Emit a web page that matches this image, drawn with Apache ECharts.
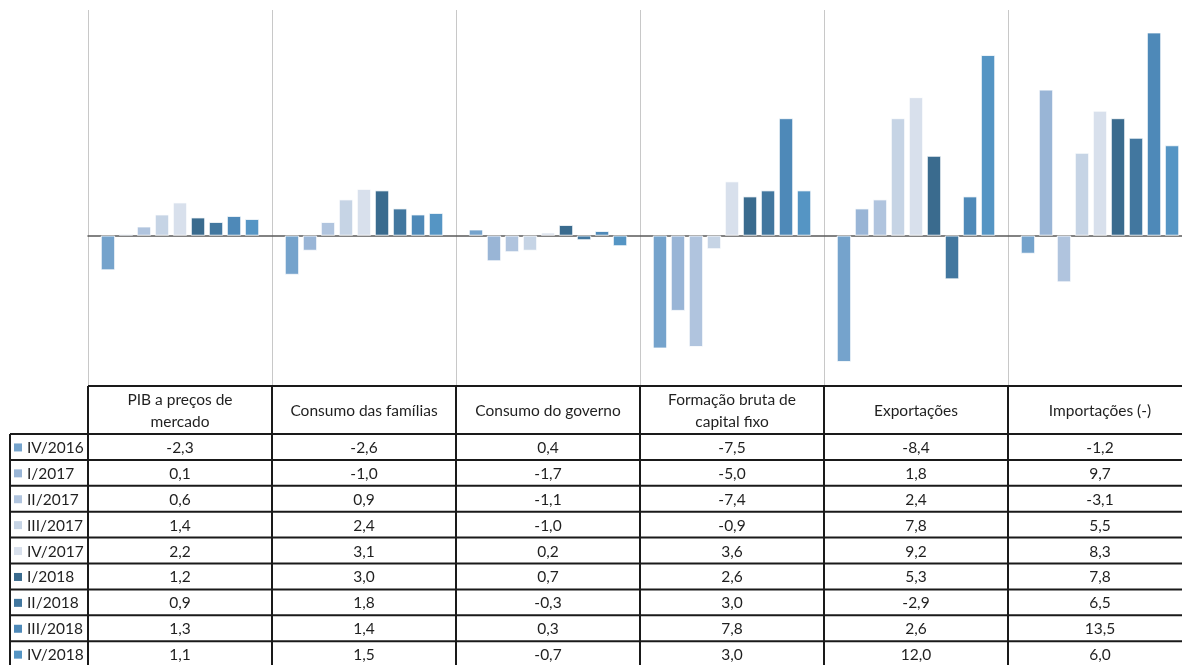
<!DOCTYPE html>
<html><head><meta charset="utf-8">
<script src="https://cdn.jsdelivr.net/npm/echarts@6/dist/echarts.min.js"></script>
<style>html,body{margin:0;padding:0;background:#fff}#c{width:1182px;height:665px}</style>
</head><body><div id="c"></div>
<script>
const categories = ['PIB a preços de\nmercado','Consumo das famílias','Consumo do governo','Formação bruta de\ncapital fixo','Exportações','Importações (-)'];
const seriesNames = ['IV/2016','I/2017','II/2017','III/2017','IV/2017','I/2018','II/2018','III/2018','IV/2018'];
const colors = ['#75a3cc','#99b5d6','#b0c4de','#c6d4e5','#d8e0ec','#3a6b8e','#42779f','#4e89b8','#5595c4'];
const vIV2016 = [-2.3,-2.6,0.4,-7.5,-8.4,-1.2];
const vI2017  = [0.1,-1.0,-1.7,-5.0,1.8,9.7];
const vII2017 = [0.6,0.9,-1.1,-7.4,2.4,-3.1];
const vIII2017= [1.4,2.4,-1.0,-0.9,7.8,5.5];
const vIV2017 = [2.2,3.1,0.2,3.6,9.2,8.3];
const vI2018  = [1.2,3.0,0.7,2.6,5.3,7.8];
const vII2018 = [0.9,1.8,-0.3,3.0,-2.9,6.5];
const vIII2018= [1.3,1.4,0.3,7.8,2.6,13.5];
const vIV2018 = [1.1,1.5,-0.7,3.0,12.0,6.0];
const allValues = [vIV2016,vI2017,vII2017,vIII2017,vIV2017,vI2018,vII2018,vIII2018,vIV2018];

const FONT = 'Lato';
const FS = 15.5;
const chart = echarts.init(document.getElementById('c'), null, {renderer:'canvas'});
const series = seriesNames.map((n,i)=>({
  name:n, type:'bar', data: allValues[i],
  barGap:'27%', barCategoryGap:'14%',
  itemStyle:{color:colors[i], borderColor:'#ffffff', borderWidth:0.8},
  silent:true, animation:false
}));
chart.setOption({
  animation:false,
  grid:{left:88, top:10, width:1104, height:376, containLabel:false, outerBoundsMode:'none'},
  xAxis:{type:'category', data:categories, boundaryGap:true,
    axisLine:{show:true, onZero:true, lineStyle:{color:'#595959', width:1.5}},
    axisTick:{show:false}, axisLabel:{show:false},
    splitLine:{show:true, lineStyle:{color:'#c8c8c8', width:1}}},
  yAxis:{type:'value', min:-10, max:15, show:false, splitLine:{show:false}},
  series
});

const g = [];
const band = chart.convertToPixel({xAxisIndex:0}, categories[1]) - chart.convertToPixel({xAxisIndex:0}, categories[0]);
const centers = categories.map(c=>chart.convertToPixel({xAxisIndex:0}, c));
const gridLeft = centers[0] - band/2;
const gridRight = centers[centers.length-1] + band/2;
const tableTop = chart.convertToPixel({yAxisIndex:0}, -10);
const headerBottom = 434;
const rowH = 25.9;
const leftX = 10;
const lineColor = '#1a1a1a';
g.push({type:'line', shape:{x1:gridLeft, y1:tableTop, x2:gridRight, y2:tableTop}, style:{stroke:lineColor, lineWidth:2}});
for (let r=0; r<=seriesNames.length; r++){
  const y = headerBottom + r*rowH;
  g.push({type:'line', shape:{x1:leftX, y1:y, x2:gridRight, y2:y}, style:{stroke:lineColor, lineWidth:2}});
}
g.push({type:'line', shape:{x1:leftX, y1:headerBottom, x2:leftX, y2:700}, style:{stroke:lineColor, lineWidth:2}});
for (let c=0; c<=categories.length; c++){
  const x = gridLeft + c*band;
  g.push({type:'line', shape:{x1:x, y1:tableTop, x2:x, y2:700}, style:{stroke:lineColor, lineWidth:2}});
}
categories.forEach((c,i)=>{
  g.push({type:'text', x:centers[i], y:(tableTop+headerBottom)/2+1,
    style:{text:c, font:FS+'px '+FONT, fill:'#1f1f1f', align:'center', verticalAlign:'middle', lineHeight:22}});
});
seriesNames.forEach((n,r)=>{
  const yc = headerBottom + r*rowH + rowH/2 + 1;
  g.push({type:'rect', shape:{x:14, y:yc-4.5, width:8, height:8}, style:{fill:colors[r]}});
  g.push({type:'text', x:27, y:yc, style:{text:n, font:FS+'px '+FONT, fill:'#1f1f1f', align:'left', verticalAlign:'middle'}});
  allValues[r].forEach((v,i)=>{
    g.push({type:'text', x:centers[i], y:yc, style:{text:v.toFixed(1).replace('.',','), font:FS+'px '+FONT, fill:'#1f1f1f', align:'center', verticalAlign:'middle'}});
  });
});
chart.setOption({graphic:{elements:g.map(e=>Object.assign({silent:true}, e))}});
</script>
</body></html>
